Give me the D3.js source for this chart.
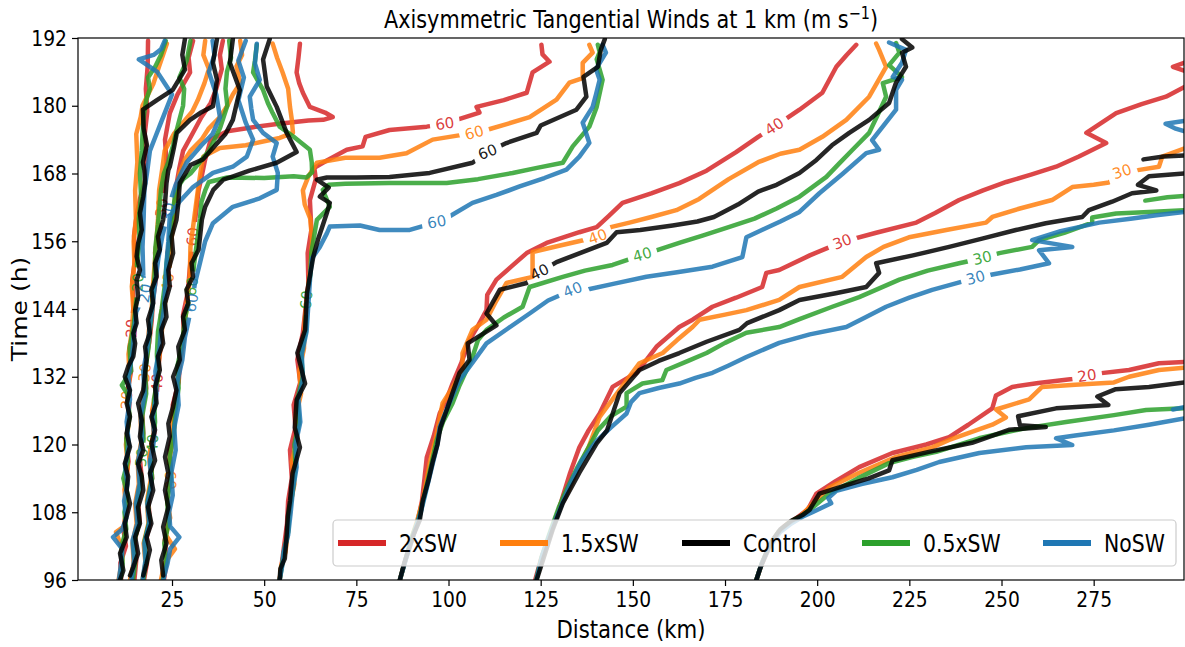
<!DOCTYPE html>
<html>
<head>
<meta charset="utf-8">
<script src="https://cdn.jsdelivr.net/npm/d3@7/dist/d3.min.js"></script>
<style>
body { margin: 0; background: #fff; }
svg text { font-family: "DejaVu Sans", sans-serif; }
</style>
</head>
<body>
<div id="chart"></div>
<script>
// Runs, legend order, and axis ticks.
const runs = ["2xSW", "1.5xSW", "Control", "0.5xSW", "NoSW"];
const xTicks = [25, 50, 75, 100, 125, 150, 175, 200, 225, 250, 275];
const yTicks = [96, 108, 120, 132, 144, 156, 168, 180, 192];

// Contour lines as [distance km, time h].
// 2xSW
const red_in20 = [[11.2,96],[11,99],[12.5,102],[11.8,105],[12.9,109],[12.2,113],[13.2,117],[12.6,121],[13.4,125],[12.8,129],[13.9,133],[13.5,137],[14.1,140.6],[14.6,145],[14.2,149],[15,153],[14.7,157],[15.5,161],[16.5,164],[17.8,167],[18,171],[17.6,175],[18.3,179],[17.9,183],[18.4,187],[18.5,191.5]];
const red_in30 = [[14.8,96],[15.3,99.5],[14.9,103],[16.2,106.5],[15.8,110],[16.8,114],[16.2,118],[17.2,122],[16.9,126],[18,130],[17.6,134],[18.8,138],[19.5,142],[19.9,146],[20.8,150],[20.4,154],[21.5,158],[22.3,161.9],[22.8,166],[23.5,170],[23.1,174],[24.4,178.7],[26.5,182],[29.9,185.9],[29.5,188.5],[30.7,191.5]];
const red_in40 = [[17.4,96],[18.2,99],[17.8,102.5],[19,106],[18.6,110],[19.6,114],[19.2,118],[20.2,122],[19.8,126],[21,130.9],[21.5,135],[22.2,139],[22,143],[23.3,147],[24,150],[23.8,154],[24.9,158],[25.6,162],[26.2,166],[27,169],[28,172],[30.5,175],[33,178],[35.5,180.5],[37,183],[38.5,186.5],[38,189],[38.8,191.5]];
const red_in60 = [[22.8,96],[23.6,99.5],[23,103],[24.2,107],[23.7,111],[24.8,115],[24.3,119],[25.6,123],[25.2,127],[26.8,131],[27.2,135],[28.2,139],[28,143],[29.3,147],[29.8,151],[30.7,156.8],[31.5,161],[32.2,165],[33.2,168],[34,170.5],[35.5,174],[40,175.5],[47,176.2],[54,176.8],[62,177.4],[66,177.5],[68.6,178],[66.5,178.8],[62.4,179.8],[60.5,182.3],[59.5,184],[58.8,185.9],[59.3,188.5],[59.7,191]];
const red_out60 = [[54.2,96],[54.8,99],[55.4,102],[56.2,106],[56.5,110],[57.5,114],[57,119],[58.5,123],[58,127],[59.8,131],[59,135],[60.5,139.8],[61.2,144],[62,148.5],[61.8,153.9],[62.8,158],[62.4,163.3],[64,167],[63.6,169],[67,170.3],[72.4,172.2],[76.7,172.8],[77.5,174.5],[84,175.7],[94.1,176.3],[99,176.8],[102.2,177.5],[108.4,178.8],[107.6,179.8],[115,181],[121.2,182.3],[122.8,185.9],[127.4,187.8],[125.5,189.1],[125.2,190.8]];
const red_out40 = [[86.8,96],[88.3,99.5],[90,103],[91.5,106],[92.8,110],[93.5,114],[94.1,117.7],[96,121.5],[97.6,125.5],[99.5,128],[101.1,130.8],[103.5,134.5],[105.7,138.5],[108,141],[110.3,143.8],[110.5,146.5],[113,149.2],[117,151.5],[121.2,153.9],[126.6,155.7],[135.5,157.6],[140.2,158.5],[143.5,160.5],[147.2,162.8],[155,164.5],[162.6,166.3],[170,168.5],[178,171.8],[184,174.5],[188.4,176.3],[195.2,179.3],[201.4,182.3],[205.2,186.9],[208,189],[210.6,190.8]];
const red_out30 = [[123.5,96],[125,99.5],[127.5,104],[129.5,107.5],[130.9,110.6],[133,115],[135.5,119.5],[138,122.5],[141,125.5],[144.5,130.2],[151,132.7],[156.4,137.3],[162.6,140.8],[166.2,142.1],[171.6,144.4],[178,146],[185.1,147.9],[186.2,150.4],[189.7,150.9],[198,153.5],[206.8,155.9],[216,157.5],[226.9,159.3],[232,161],[238.5,163.3],[245,165],[251.3,166.5],[258,167.8],[264.8,169.2],[271,171],[278.4,173.4],[273,175.2],[281.1,178.7],[288,180.3],[294.6,181.6],[299.5,183.3]];
const red_out20 = [[183.5,96],[184.8,98.5],[186.5,101],[188.5,103.5],[191,105.5],[194.5,107],[197.5,108.5],[199.8,111.3],[205,113.5],[211.4,116],[220.4,118.5],[229.6,120],[235.8,121.3],[241,123.5],[247.5,126.4],[248.5,128.7],[252.9,130.2],[260,130.9],[269.2,131.6],[276.5,132.6],[284.6,133.2],[292.7,134.4],[299.5,134.6]];
const red_edge = [[299.5,187.6],[296.5,186.9],[299.5,186.2]];

// 1.5xSW
const ora_in20 = [[10.5,96],[11.5,99.5],[11.2,102],[9.8,104.5],[12,105.5],[12.5,108.5],[12.1,112],[13,116],[12.5,120],[13.3,124],[12.8,127.9],[13.5,132],[13.2,136],[14.1,140],[14.5,144],[14.1,148],[14.8,152],[14.6,156],[15.2,160],[15,165],[15.6,170],[15.3,175],[16.5,178],[17,180],[20,184],[21.5,187],[23.6,191]];
const ora_in30 = [[13.6,96],[14.6,99],[14.3,102.5],[15.4,106],[15,109.5],[16,113],[15.7,117],[16.8,121],[16.4,125],[17.3,129],[17.7,132.7],[18.3,136],[18.7,140],[19.5,144],[19.8,148],[20.3,152],[20.8,156],[21.2,160],[21.5,165],[22.4,169],[23,172],[25.5,175],[28,177],[30.5,179],[32,181],[33.8,184],[35,186.5],[33.5,189],[34,191.5]];
const ora_in40 = [[17,96],[17.8,99],[17.3,102.5],[18.6,106],[18.2,110],[19.3,114],[18.8,118],[20,122],[19.6,126],[20.8,130],[21.3,134],[22,138],[22.5,142],[23.2,145.5],[23.9,148.7],[24.4,152],[24.8,156],[25.5,160],[26.2,164],[27,168],[28.5,170.5],[30,172],[33,174],[35,176],[38,178],[40,180],[41.5,182],[43.5,184],[42.5,187],[44,189],[43.5,191.5]];
const ora_in60 = [[22,96],[23,99],[25.8,101.5],[23.3,104],[24.5,107],[23.6,110.5],[24.5,113.7],[24.2,117],[25.3,121],[25,125],[26.4,129],[26.8,133],[27.8,137],[28.5,141],[29,145],[29.8,149],[30,155],[31,160],[32,165],[32.8,168.5],[33.5,171],[38,172.5],[45,173],[50,173.7],[54.2,174.3],[57.8,175.2],[57.5,177.5],[57,179.8],[56.5,183],[55,185.9],[53.5,188.5],[52.3,191]];
const ora_out60 = [[54.2,96],[54.6,98.5],[55.8,101],[56.5,105],[57,109],[58.2,113],[57.5,117],[59,121],[58.6,125],[60,129],[59.5,133],[60.8,137],[61,142],[61.8,147],[62.5,151],[63,156],[62.5,160],[61,162.5],[60.5,165],[62,167.5],[64.3,169.9],[72,170.8],[81.3,170.8],[88.6,171.6],[95.7,174],[107,175.2],[110.3,175.7],[116,176.8],[122,178],[129.3,181.1],[132.8,184.1],[136.4,184.9],[136.4,187.6],[139.1,189.4],[138.2,190.8]];
const ora_out40 = [[86.8,96],[88.3,99.5],[89.8,103],[91.5,106.5],[93,110],[94,113.5],[94.9,116.7],[96.5,121],[98.4,127.3],[101,130],[103.8,133.2],[103.8,136.2],[106.5,140.3],[110.3,142.1],[113,145.5],[115.7,148.6],[122.8,149.7],[122.8,154.1],[130,155.2],[137.4,156.3],[140.5,156.8],[144,158.5],[149.1,159.3],[155,160.3],[161.8,161.5],[168,163.5],[176,167],[184,170],[190,171.5],[195.2,172.2],[201.4,174.5],[207.9,177.5],[214.1,181.6],[218.7,186.9],[216.8,189.9],[216,191]];
const ora_out30 = [[123.8,96],[125.5,100],[128,105],[130,108.5],[132,111],[135,115.5],[138,119.5],[141,124.9],[146.4,129.7],[151.8,134.4],[158.1,136.2],[162,138.5],[166.2,140.8],[168.1,142.1],[175,143],[180.8,143.8],[189.7,145.6],[195.2,147.9],[206.8,149.7],[213.3,153.2],[218,155],[224.9,156.7],[235,158],[245.8,159.3],[247.5,160.3],[255,161.8],[263.7,163.3],[269.2,165.6],[275,166],[279.1,166.4],[282.7,168.3],[287,168.6],[292.7,169.2],[293.6,171],[299.5,172.4]];
const ora_out20 = [[183.5,96],[185,99],[187,102],[189.5,104.5],[192,106],[195.5,107.3],[198,109],[203.3,112.4],[211.4,115],[221.4,117.8],[231.2,119.5],[235.8,120.8],[241,122],[247.5,123.5],[251.2,124.8],[248.5,126.2],[257.5,128],[261,130.2],[270,130.6],[280.5,131],[284.6,132],[292.7,133.2],[299.5,133.6]];

// Control
const ctl_in20 = [[10.9,96],[11.8,97.7],[10.9,100.7],[12.7,103.6],[12.2,106],[13.6,109.5],[12.7,111.9],[13.1,114.3],[12.2,116.6],[13.6,119.6],[12.7,122],[13.6,124.9],[12.7,127.3],[13.6,129.6],[12.2,132],[13.1,133.8],[14.5,135.6],[15,137.9],[14.5,139.7],[15.4,141.5],[15,143.8],[15.8,146.2],[15.4,149.1],[16.3,150.9],[15.4,153.3],[15.8,155.6],[16.8,158],[16.3,161],[17.2,163.9],[17.7,166.3],[17.5,168.6],[17.1,170],[18.2,173],[17.3,176],[17.1,179.3],[20.9,181],[25.2,182.8],[28.5,186.4],[27.8,189],[28.5,191.8]];
const ctl_in30 = [[13.6,96.8],[14.5,98.3],[15.8,100.7],[15,103.6],[16.3,106],[15.8,108.9],[17.2,111.9],[16.8,114.3],[15.8,116.6],[17.2,119],[16.3,121.4],[16.8,124.3],[15.8,127.3],[17.2,129.6],[17.7,132.6],[18.1,135],[17.7,137.3],[19,139.7],[18.5,142.1],[19.9,145],[19.4,147.4],[20.8,149.7],[20.4,152.1],[21.7,154.5],[21.2,156.8],[22.6,159.8],[23.1,162.7],[23.5,166.3],[24,168.6],[24.4,169.2],[25.5,172.5],[26.3,175.2],[29.9,177.5],[32.6,178.7],[36.1,179.9],[37.2,184.6],[36.1,187.6],[37.2,191.8]];
const ctl_in40 = [[17.2,96.8],[18.1,98.9],[19,101.3],[18.1,103.6],[19.4,106],[18.5,108.9],[19.9,111.9],[19,114.9],[20.4,117.2],[19.4,120.2],[20.4,122.6],[19.4,124.9],[20.8,127.3],[20.4,130.2],[21.7,133.2],[21.2,135.6],[22.6,137.9],[22.1,140.3],[23.5,142.6],[23.1,145],[24.4,148],[24,150.9],[25.3,153.9],[24.9,156.8],[26.2,159.8],[26.7,162.7],[27.1,166.3],[30,169.5],[33.4,170.5],[36.1,172.5],[39.5,175],[41.5,177.5],[43.4,182.8],[40.7,187.6],[41.5,191.8]];
const ctl_in60 = [[22.6,96.8],[22.1,99.5],[23.5,102.5],[22.6,105.4],[24,108.9],[23.1,111.9],[24,114.9],[23.1,117.8],[24.4,121.4],[24,123.7],[25.3,126.7],[26.2,129.6],[25.3,132],[27.1,135],[26.7,137.3],[28.5,140.3],[28,142.6],[29.4,145],[28.9,147.4],[30.7,149.7],[30.3,152.1],[32.2,154.5],[32.6,156.8],[33.1,159.8],[34,162.1],[36.2,165.1],[38.9,166.9],[41.6,167.5],[46,168.5],[53.4,169.9],[58.8,171.8],[56.1,175.2],[53.4,179.8],[50.7,183.4],[49.7,188.2],[51.5,191.8]];
const ctl_out60 = [[54.2,96],[54.4,98],[55.6,99.8],[56,103],[56.4,107.2],[57,110],[57.7,114.9],[59.7,119.5],[58.3,123],[58.8,127.9],[61.1,130.8],[59,136.2],[61.1,140.3],[61.6,146.8],[63.3,153.2],[64.6,156.3],[67,161],[67.8,162.8],[65.1,163.9],[67.5,165.5],[64.3,166.9],[67,167.3],[75,167.3],[84,167.4],[94.9,168.1],[106.5,169.9],[110.6,171.8],[115.7,173.4],[123.9,175.2],[125,176.5],[134.7,179.3],[137.4,181.6],[136.6,185.1],[140.5,186.9],[141.3,189.9],[142.4,191.8]];
const ctl_out40 = [[86.8,96],[88,99],[89.5,102],[90.5,104],[92.2,106.6],[93,110],[94.5,113.5],[95.7,116.9],[97,120],[97.8,123],[99.5,126.1],[101,129],[103,132.7],[105.7,135],[105.2,137.9],[113,141.1],[110.3,143.2],[113.9,147.4],[121.2,148.6],[124.7,150.5],[129.3,152.3],[136,154],[142.9,155.7],[145.6,157.6],[152,158],[160.8,158.8],[167.5,159.5],[172,160.3],[178.5,162.5],[184,164.8],[189,166],[195.2,168.1],[199.8,170.4],[204,173],[208.7,175.2],[214.1,177.5],[219.5,180.5],[221.4,184.1],[224.1,186.9],[223,189.4],[225.8,190.3],[223,191.8]];
const ctl_out30 = [[123.9,96],[125.6,99.5],[128.2,104.8],[131,109.6],[135.5,115],[140.2,120.2],[143,122.5],[146.4,129.1],[151.8,133.2],[157,134.8],[162.6,136.2],[170,138.2],[178.9,140.3],[181,141.5],[189.7,143.8],[195.2,145.6],[205,146.8],[213.3,147.9],[216.8,150.4],[216,152.1],[226,153.5],[235.8,155],[245,156.5],[253.9,158],[262,159.2],[271.9,160.3],[273.7,161.5],[280,163],[285.4,164.5],[292,165],[287,166],[290,167.5],[299.5,168]];
const ctl_out30b = [[288.5,170.5],[294,171],[299.5,171.2]];
const ctl_out20 = [[183.5,96],[184.5,98],[186,100.5],[187.8,103],[190,105],[193,106.5],[196,107.5],[197.9,108.4],[200.6,111.3],[207.9,112.8],[214,114],[219.5,115.4],[220.4,117.2],[230.3,118.7],[242,120.3],[252,122.6],[262,123.1],[255,123.4],[254.5,125],[264.8,126.4],[279,127],[276,128.5],[281,129.8],[290,130.2],[299.5,131]];

// 0.5xSW
const grn_in20 = [[11,96],[11.6,99],[11.3,102],[12.6,105],[12.1,108],[13,111],[11.8,114],[13,117],[12.6,121],[13.5,125],[12.9,129],[11.4,130.5],[13.9,133],[13.5,137],[14.6,141],[15.2,145],[15.8,148.7],[15.5,152],[16.2,156],[16,160],[16.6,164],[16.3,168],[16.8,172],[17,175],[17.3,178],[18,181],[19,183],[18.5,185],[20.5,187],[22,189],[23.3,191.5]];
const grn_in30 = [[14.4,96],[15,99],[14.6,102.5],[16,106],[15.5,109.5],[16.4,113],[16.8,117.7],[17.3,121],[16.9,125],[18,129],[17.7,133],[18.6,137],[19,140],[19.6,144],[20.1,148],[20.4,152],[20.5,155],[21.2,159],[22,165],[22.8,168],[24,170],[25.3,173],[26,175],[27,177.5],[28,180],[28.3,183],[27,185],[29,188],[30,191.5]];
const grn_in40 = [[17.2,96],[18,99.5],[17.6,103],[18.9,106.5],[18.4,110],[19.6,114],[19.2,117.5],[19.8,120.2],[20.4,124],[20.1,128],[21.2,132],[20.9,136],[21.2,140],[22.2,144],[23,148],[23.5,152],[24.3,156],[25,160],[25.6,163],[26,165],[28,167],[30,168],[32.5,170],[35,172],[36.5,174],[38,176],[39,178],[40,180],[39.5,183],[39.9,186],[41,188.5],[40.5,191.5]];
const grn_in60 = [[22.5,96],[23.4,99],[22.9,102.5],[24.1,106],[23.7,110],[24.7,114],[24.4,118],[25.5,122],[25.9,126],[26.8,130],[26.5,134],[27.8,138],[28.4,142],[29.4,145],[30.4,148],[31,152],[32,157],[32.6,160],[33,163],[34,165],[35,166.5],[40,167.3],[50,167.2],[58,167.5],[61.5,167.3],[63,168.2],[62.9,170],[62.4,172.2],[58,174.5],[54.2,176.3],[52.3,178.7],[51,180.5],[49.7,182.8],[47,185.9],[47.5,188],[48,190.8]];
const grn_out60 = [[54.2,96],[54.7,98],[55.5,101.5],[56.5,104.5],[56.8,108],[57.8,112],[58.5,116],[58.2,120],[59.5,124],[59,128],[60.5,132],[60,136],[61.3,140],[61.5,145.6],[62.5,150],[62.8,154],[64.3,159.8],[67.8,162.1],[65.9,165.1],[67.5,166],[72,166.2],[84,166.3],[99.5,166.3],[108,167],[117.4,168.1],[124,169],[131,169.9],[133.7,172.8],[138.2,176.3],[140.2,179.8],[141.8,184.6],[140.2,188.2],[141,189.5],[140.5,190.8]];
const grn_out40 = [[86.8,96],[88.5,100],[90,103.5],[92,107],[93.5,111],[95,115.5],[96.8,120.8],[98.5,124],[101.1,127.3],[103,130.5],[106.5,135.5],[108,138.5],[110.3,140.3],[115,142.5],[120.1,144.4],[122,147.9],[131,149.7],[137,150.8],[144.5,151.8],[152.6,153.6],[157,154.5],[163,155.8],[168.9,157],[176,158.5],[183,160],[189,161.8],[195.2,163.9],[202.5,167.4],[206,169.8],[209.6,172.2],[214.1,175.2],[216.5,178.5],[218.7,181.6],[217.8,184],[223,185.1],[219.5,187.2],[222.3,189.4],[221.4,191.1]];
const grn_out30 = [[123.8,96],[125.2,100],[127.8,105],[130,109],[132,112],[135,116],[138,119.5],[140.5,122.5],[144,125],[148.3,126.7],[148.3,129.1],[152.6,130.8],[158,131.4],[159.1,133.2],[165,134.8],[170,136.2],[175,138],[180.8,139.8],[189.7,140.8],[195.2,142.2],[204.1,144.4],[211.4,146.1],[222.3,149.2],[230,150.8],[238.5,152.1],[244.8,153],[249.4,153.9],[258.3,155],[260.2,156.2],[267,157.5],[274.6,159.3],[274.6,160.2],[281.1,160.9],[290,161.2],[299.5,161.5]];
const grn_out30b = [[289,163.2],[295,163.8],[299.5,164]];
const grn_out20 = [[183.5,96],[185,99],[187,102],[189.5,104.5],[192.5,106.2],[195.5,107.2],[198.7,108.8],[203.3,111.3],[211,114],[219.5,116.7],[226,117.8],[232.3,118.7],[243.9,121.1],[250,122],[256.7,122.9],[267.5,124],[280.5,125.2],[289.2,126.1],[299.5,126.4]];

// NoSW
const blu_in20 = [[10.6,96],[11.2,99],[11.5,101.5],[9,103.6],[11.5,105],[12.6,107],[12,110],[12.9,113],[12.3,116],[13.3,120],[12.7,124],[13.6,128],[13.2,132],[14.2,136],[14.7,140],[15.3,143.5],[17.7,146.8],[17.2,150],[17,155],[17.3,160],[17.5,165],[18.2,168],[19,172],[20.5,174.5],[22,177],[23.5,179.5],[25,182],[23,184],[21,186],[16,188.2],[20,189],[22,190],[23,191.5]];
const blu_in30 = [[14,96],[14.7,99.5],[14.3,103],[15.6,106],[15.2,109.5],[16.2,113],[15.8,117],[16.9,121],[16.5,125],[17.6,129],[17.2,133],[18.3,137],[19,141],[19.8,145],[20.5,149],[21.3,153],[22.4,157],[24,161.2],[25,164],[26,166],[29,170],[33,173],[36,175],[38,178],[37,182],[35,186],[36.5,189],[36,191.5]];
const blu_in40 = [[17,96],[17.8,99.5],[17.5,102.5],[18.8,106],[18.3,109.5],[19.4,113],[19,117],[20.2,121],[19.8,125],[20.8,129],[20.5,133],[21.6,137],[22,140],[22.8,144],[23.2,148],[23.5,152],[24,156],[24.4,160.4],[27,163],[30.7,165.6],[36.1,168.1],[41.5,169.2],[45.3,171],[47,174],[45,177],[43,181],[44.5,185],[43,188],[45,191.5]];
const blu_in60 = [[22.6,96],[23.8,99],[24.5,101.5],[27,103.6],[24.5,105.5],[24.2,108],[25.2,111],[24.8,115],[26,119],[25.6,123],[26.8,127],[26.4,131],[27.8,135],[28.5,139],[29.5,142],[30.4,145.1],[31.2,148.5],[32.6,152.2],[34,156],[36.1,159.2],[41.5,162.1],[48.8,163.6],[53.4,165.1],[53.7,168.1],[52.3,171],[53.4,173.4],[49.7,175.2],[47,177.5],[46.5,179.5],[46.1,181.6],[48.8,184.6],[47.5,187.5],[48,191]];
const blu_out60 = [[54.2,96],[54.9,98.5],[55.3,101],[56.5,104],[57.2,108],[57.8,112],[58.8,116],[58.5,120],[59.8,124],[59.3,128],[60.5,131.5],[60.2,136],[61.5,140],[62,145],[62.5,150],[63,153],[65.1,155],[67,157.4],[67.8,158.6],[76,158.8],[81.3,158],[89.5,158],[96.8,159.4],[100,160.3],[106.5,162.8],[113,164.2],[119.3,165.7],[126,167.2],[132,168.7],[135.5,171],[138.2,173.4],[136.4,177],[139.1,179.8],[140,182],[141,184.6],[140,186.5],[142.7,189.4],[141.8,190.8]];
const blu_out40 = [[86.8,96],[88.6,100],[90.5,104],[92.5,108],[94,112],[95.5,116],[97,120],[97.6,123.1],[100,127],[103,131.4],[106.5,134.5],[110.3,137.9],[116,140.5],[122,143.2],[127,145.5],[133.7,147.4],[137.4,147.4],[145,148.5],[153.7,149.7],[162,150.5],[171.6,151.5],[179.7,153.2],[180.8,156.7],[185,158],[190,159.5],[195.2,161.2],[200.6,164.5],[207,168],[213.3,171.6],[216.8,172.2],[214.9,173.9],[218,176.5],[221.4,179.3],[221.4,182.8],[223,184.6],[220.5,185.1],[223,187.6],[224.1,189.9],[219.5,191.2]];
const blu_out30 = [[123.8,96],[125.5,100.5],[128,105],[130.5,109],[133,113],[136,117],[140,120.5],[144,123],[148.3,125.5],[149.5,127.5],[151.8,129.1],[157,130],[162.6,130.8],[167,131.8],[171.6,132.7],[176,134],[180.8,135.5],[189.7,138],[198,139.5],[207.9,140.8],[213,142.5],[218.7,144.4],[225,146],[231.2,147.4],[243,149.5],[247.5,150.1],[255,151],[262.9,152.1],[260.2,154.4],[269.2,155],[258.3,156.2],[266,157.8],[276.5,159.3],[285,160],[292,160.6],[299.5,161.2]];
const blu_edge = [[299.5,177.3],[294.5,176.8],[297,176],[299.5,175.5]];
const blu_out20 = [[183.5,96],[185,99],[187.2,102],[190,104.5],[193,106],[196,107.2],[198.7,108],[203.8,109.6],[203,110.5],[205.2,111.8],[212,113],[220.4,114.2],[227,115.5],[233.1,116.9],[244,118.5],[256.7,119.5],[269.2,119.9],[264.8,121.1],[270,121.6],[280.5,122.5],[290,123.5],[299.5,124.6]];
const blu_out20b = [[296.5,126.2],[299.5,126.6]];

// Inline contour labels: [level, line index, [km, h] near the label].
const contours = [
  ["2xSW", [red_in20, red_in30, red_in40, red_in60, red_out60, red_out40, red_out30, red_out20, red_edge],
    [[20, 0, [14.1,140.6]], [30, 1, [22.3,161.9]], [40, 2, [21,130.9]], [60, 3, [30.7,156.8]],
     [60, 4, [99,176.8]], [40, 5, [188.4,176.3]], [30, 6, [206.8,155.9]], [20, 7, [273.2,132.2]]]],
  ["1.5xSW", [ora_in20, ora_in30, ora_in40, ora_in60, ora_out60, ora_out40, ora_out30, ora_out20],
    [[20, 0, [12.8,127.9]], [30, 1, [17.7,132.7]], [40, 2, [23.9,148.7]], [60, 3, [24.5,113.7]],
     [60, 4, [107,175.2]], [40, 5, [140.5,156.8]], [30, 6, [282.7,168.3]]]],
  ["0.5xSW", [grn_in20, grn_in30, grn_in40, grn_in60, grn_out60, grn_out40, grn_out30, grn_out30b, grn_out20],
    [[20, 0, [15.8,148.7]], [30, 1, [16.8,117.7]], [40, 2, [19.8,120.2]], [60, 3, [30.4,148]],
     [60, 4, [61.5,145.6]], [40, 5, [152.6,153.6]], [30, 6, [244.8,153]]]],
  ["NoSW", [blu_in20, blu_in30, blu_in40, blu_in60, blu_out60, blu_out40, blu_out30, blu_edge, blu_out20, blu_out20b],
    [[20, 0, [17.7,146.8]], [30, 1, [24,161.2]], [60, 3, [30.4,145.1]],
     [60, 4, [96.8,159.4]], [40, 5, [133.7,147.4]], [30, 6, [243,149.5]]]],
  ["Control", [ctl_in20, ctl_in30, ctl_in40, ctl_in60, ctl_out60, ctl_out40, ctl_out30, ctl_out30b, ctl_out20],
    [[60, 4, [110.6,171.8]], [40, 5, [124.7,150.5]]]]
];

const colors = { "2xSW": "#d62728", "1.5xSW": "#ff7f0e", "Control": "#000000", "0.5xSW": "#2ca02c", "NoSW": "#1f77b4" };

const width = 1185;
const height = 647;
const plot = { left: 78, right: 1184, top: 38, bottom: 580 };
const sx = 0.85; // the picture's text is horizontally narrow

const svg = d3.select("#chart").append("svg")
  .attr("width", width)
  .attr("height", height);

const x = d3.scaleLinear().domain([-0.5, 299.5]).range([plot.left, plot.right]);
const y = d3.scaleLinear().domain([96, 192]).range([plot.bottom, plot.top]);

const defs = svg.append("defs");
defs.append("clipPath").attr("id", "plotclip")
  .append("rect")
  .attr("x", plot.left).attr("y", plot.top)
  .attr("width", plot.right - plot.left).attr("height", plot.bottom - plot.top);

const line = d3.line().x(d => x(d[0])).y(d => y(d[1]));

// Nearest point on a polyline (screen space) and the local direction there.
function labelSpot(pts, p) {
  const px = x(p[0]), py = y(p[1]);
  let best = null;
  for (let i = 0; i < pts.length - 1; i++) {
    const ax = x(pts[i][0]), ay = y(pts[i][1]);
    const bx = x(pts[i + 1][0]), by = y(pts[i + 1][1]);
    const dx = bx - ax, dy = by - ay;
    const len2 = dx * dx + dy * dy || 1;
    let t = ((px - ax) * dx + (py - ay) * dy) / len2;
    t = Math.max(0, Math.min(1, t));
    const qx = ax + t * dx, qy = ay + t * dy;
    const dist = (qx - px) ** 2 + (qy - py) ** 2;
    if (!best || dist < best.dist) best = { dist, qx, qy, i };
  }
  const a = pts[Math.max(0, best.i - 1)], b = pts[Math.min(pts.length - 1, best.i + 2)];
  let ang = Math.atan2(y(b[1]) - y(a[1]), x(b[0]) - x(a[0])) * 180 / Math.PI;
  if (ang > 90) ang -= 180;
  if (ang < -90) ang += 180;
  return { x: best.qx, y: best.qy, ang };
}

const plotG = svg.append("g").attr("clip-path", "url(#plotclip)");

contours.forEach(([run, lines, labels], ri) => {
  const g = plotG.append("g");
  lines.forEach((pts, li) => {
    const labs = labels.filter(l => l[1] === li).map(l => ({ level: l[0], ...labelSpot(pts, l[2]) }));
    const path = g.append("path")
      .datum(pts)
      .attr("d", line)
      .attr("fill", "none")
      .attr("stroke", colors[run])
      .attr("stroke-width", 4.5)
      .attr("stroke-opacity", 0.85)
      .attr("stroke-linejoin", "round")
      .attr("stroke-linecap", "round");
    if (labs.length) {
      const id = `m${ri}_${li}`;
      const mask = defs.append("mask").attr("id", id)
        .attr("maskUnits", "userSpaceOnUse")
        .attr("x", 0).attr("y", 0).attr("width", width).attr("height", height);
      mask.append("rect").attr("width", width).attr("height", height).attr("fill", "#fff");
      labs.forEach(l => {
        mask.append("rect")
          .attr("x", -15).attr("y", -9).attr("width", 30).attr("height", 18)
          .attr("fill", "#000")
          .attr("transform", `translate(${l.x},${l.y}) rotate(${l.ang})`);
      });
      path.attr("mask", `url(#${id})`);
      labs.forEach(l => {
        g.append("text")
          .attr("transform", `translate(${l.x},${l.y}) rotate(${l.ang})`)
          .attr("text-anchor", "middle")
          .attr("dominant-baseline", "central")
          .attr("font-size", 15)
          .attr("fill", colors[run])
          .attr("fill-opacity", 0.9)
          .text(l.level);
      });
    }
  });
});

// Frame and axes.
svg.append("rect")
  .attr("x", plot.left).attr("y", plot.top)
  .attr("width", plot.right - plot.left).attr("height", plot.bottom - plot.top)
  .attr("fill", "none").attr("stroke", "#000").attr("stroke-width", 1.2);

const xAxis = svg.append("g")
  .attr("transform", `translate(0,${plot.bottom})`)
  .call(d3.axisBottom(x).tickValues(xTicks).tickSize(6).tickPadding(5));
const yAxis = svg.append("g")
  .attr("transform", `translate(${plot.left},0)`)
  .call(d3.axisLeft(y).tickValues(yTicks).tickSize(6).tickPadding(5));

[xAxis, yAxis].forEach(ax => {
  ax.select(".domain").remove();
  ax.selectAll(".tick line").attr("stroke", "#000").attr("stroke-width", 1.2);
  ax.selectAll(".tick text")
    .attr("font-size", 22)
    .attr("fill", "#000")
    .attr("font-family", "DejaVu Sans");
});
xAxis.selectAll(".tick text").attr("transform", `scale(${sx},1)`);
yAxis.selectAll(".tick text")
  .attr("transform", `scale(${sx},1)`)
  .attr("x", -11 / sx);

// Title and axis labels.
const title = svg.append("text")
  .attr("transform", `translate(${(plot.left + plot.right) / 2},28) scale(${sx},1)`)
  .attr("text-anchor", "middle")
  .attr("font-size", 24.5)
  .attr("fill", "#000");
title.append("tspan").text("Axisymmetric Tangential Winds at 1 km (m s");
title.append("tspan").attr("font-size", 17).attr("dy", -9).text("\u22121");
title.append("tspan").attr("dy", 9).text(")");

svg.append("text")
  .attr("transform", `translate(${(plot.left + plot.right) / 2},638) scale(${sx},1)`)
  .attr("text-anchor", "middle")
  .attr("font-size", 25)
  .attr("fill", "#000")
  .text("Distance (km)");

svg.append("text")
  .attr("transform", `translate(27,${(plot.top + plot.bottom) / 2}) rotate(-90) scale(1,${sx})`)
  .attr("text-anchor", "middle")
  .attr("font-size", 25)
  .attr("fill", "#000")
  .text("Time (h)");

// Legend.
const legendX = [338, 500, 682, 862, 1043];
const legend = svg.append("g");
legend.append("rect")
  .attr("x", 333).attr("y", 520).attr("width", 843).attr("height", 46)
  .attr("rx", 4)
  .attr("fill", "#fff").attr("fill-opacity", 0.8)
  .attr("stroke", "#cccccc").attr("stroke-width", 1.2);
runs.forEach((run, i) => {
  legend.append("line")
    .attr("x1", legendX[i]).attr("x2", legendX[i] + 48)
    .attr("y1", 543).attr("y2", 543)
    .attr("stroke", colors[run]).attr("stroke-width", 6);
  legend.append("text")
    .attr("transform", `translate(${legendX[i] + 61},551.5) scale(${sx},1)`)
    .attr("font-size", 24)
    .attr("fill", "#000")
    .text(run);
});
</script>
</body>
</html>
